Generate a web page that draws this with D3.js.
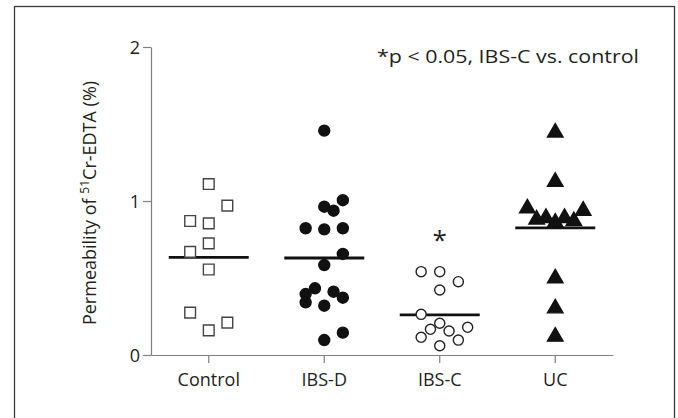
<!DOCTYPE html>
<html>
<head>
<meta charset="utf-8">
<script src="https://cdn.jsdelivr.net/npm/d3@7"></script>
<style>
  body { margin: 0; background: #fff; }
  text { font-family: "Open Sans", "Noto Sans", sans-serif; fill: #231f20; }
</style>
</head>
<body>
<script>
// values (permeability, %)
var groups = ["Control", "IBS-D", "IBS-C", "UC"];
var yTicks = [0, 1, 2];

var controlValues = [1.11, 0.97, 0.87, 0.855, 0.725, 0.67, 0.555, 0.275, 0.21, 0.16];
var controlSlots  = [0, 2, -2, 0, 0, -2, 0, -2, 2, 0];

var ibsdValues = [1.457, 1.005, 0.963, 0.937, 0.823, 0.816, 0.823, 0.656, 0.584, 0.433, 0.411, 0.396, 0.372, 0.342, 0.32, 0.145, 0.097];
var ibsdSlots  = [0, 2, 0, 1, -2, 0, 2, 2, 0, -1, 1, -2, 2, -2, 0, 2, 0];

var ibscValues = [0.541, 0.541, 0.476, 0.422, 0.264, 0.206, 0.167, 0.156, 0.18, 0.115, 0.097, 0.06];
var ibscSlots  = [-2, 0, 2, 0, -2, 0, -1, 1, 3, -2, 2, 0];

var ucValues = [1.444, 1.125, 0.952, 0.937, 0.88, 0.89, 0.86, 0.89, 0.87, 0.498, 0.303, 0.119];
var ucSlots  = [0, 0, -3, 3, -2, -1, 0, 1, 2, 0, 0, 0];

var means = [0.634, 0.63, 0.26, 0.826];
var significance = [null, null, "*", null];

var width = 678, height = 418;
var svg = d3.select("body").append("svg").attr("width", width).attr("height", height);

// outer frame
svg.append("rect").attr("x", 14.5).attr("y", 6.5).attr("width", 660).attr("height", 420)
  .attr("fill", "none").attr("stroke", "#3a3a3a").attr("stroke-width", 1.3);

var x = d3.scaleBand().domain(groups).range([151, 613]);
var y = d3.scaleLinear().domain([0, 2]).range([355, 47]);
var step = 9.3; // jitter spacing

// axes
var yAxis = svg.append("g").attr("transform", "translate(151,0)")
  .call(d3.axisLeft(y).tickValues(yTicks).tickFormat(d3.format("d")).tickSize(8).tickSizeOuter(0));
var xAxis = svg.append("g").attr("transform", "translate(0,355)")
  .call(d3.axisBottom(x).tickSize(8).tickSizeOuter(0));

[yAxis, xAxis].forEach(function(g) {
  g.selectAll("path, line").attr("stroke", "#808080").attr("stroke-width", 1.2);
  g.selectAll("text").style("font-size", "18px").attr("fill", "#231f20");
});
yAxis.selectAll("text").attr("x", -11).attr("dy", "0.36em");
xAxis.selectAll("text").attr("y", 31).attr("dy", "0");

// y axis title
var yTitle = svg.append("text").attr("transform", "translate(96,203) rotate(-90)")
  .attr("text-anchor", "middle").style("font-size", "18px");
yTitle.append("tspan").text("Permeability of ");
yTitle.append("tspan").text("51").style("font-size", "12px").attr("dy", "-7");
yTitle.append("tspan").text("Cr-EDTA (%)").attr("dy", "7");

// note
svg.append("text").attr("x", 377).attr("y", 63).style("font-size", "19px")
  .attr("textLength", 262).attr("lengthAdjust", "spacingAndGlyphs")
  .text("*p < 0.05, IBS-C vs. control");

// mean lines
svg.selectAll(".mean").data(means).enter().append("line")
  .attr("x1", function(d, i) { return x(groups[i]) + x.bandwidth() / 2 - 40; })
  .attr("x2", function(d, i) { return x(groups[i]) + x.bandwidth() / 2 + 40; })
  .attr("y1", function(d) { return y(d); })
  .attr("y2", function(d) { return y(d); })
  .attr("stroke", "#111").attr("stroke-width", 2.8);

// scatter points
var series = [
  { vals: controlValues, slots: controlSlots, shape: d3.symbolSquare, size: 115, fill: "#fff", stroke: "#444" },
  { vals: ibsdValues, slots: ibsdSlots, shape: d3.symbolCircle, size: 95, fill: "#111", stroke: "#111" },
  { vals: ibscValues, slots: ibscSlots, shape: d3.symbolCircle, size: 80, fill: "#fff", stroke: "#222" },
  { vals: ucValues, slots: ucSlots, shape: d3.symbolTriangle, size: 105, fill: "#111", stroke: "#111" }
];

series.forEach(function(s, gi) {
  var cx = x(groups[gi]) + x.bandwidth() / 2;
  svg.append("g").selectAll("path").data(s.vals).enter().append("path")
    .attr("d", d3.symbol().type(s.shape).size(s.size))
    .attr("transform", function(d, i) { return "translate(" + (cx + s.slots[i] * step) + "," + y(d) + ")"; })
    .attr("fill", s.fill).attr("stroke", s.stroke).attr("stroke-width", 1.4);
});

// significance markers
svg.selectAll(".sig").data(significance).enter().append("text")
  .filter(function(d) { return d; })
  .attr("x", function(d, i) { return x(groups[2]) + x.bandwidth() / 2; })
  .attr("y", 249).attr("text-anchor", "middle")
  .style("font-size", "26px")
  .text(function(d) { return d; });
</script>
</body>
</html>
